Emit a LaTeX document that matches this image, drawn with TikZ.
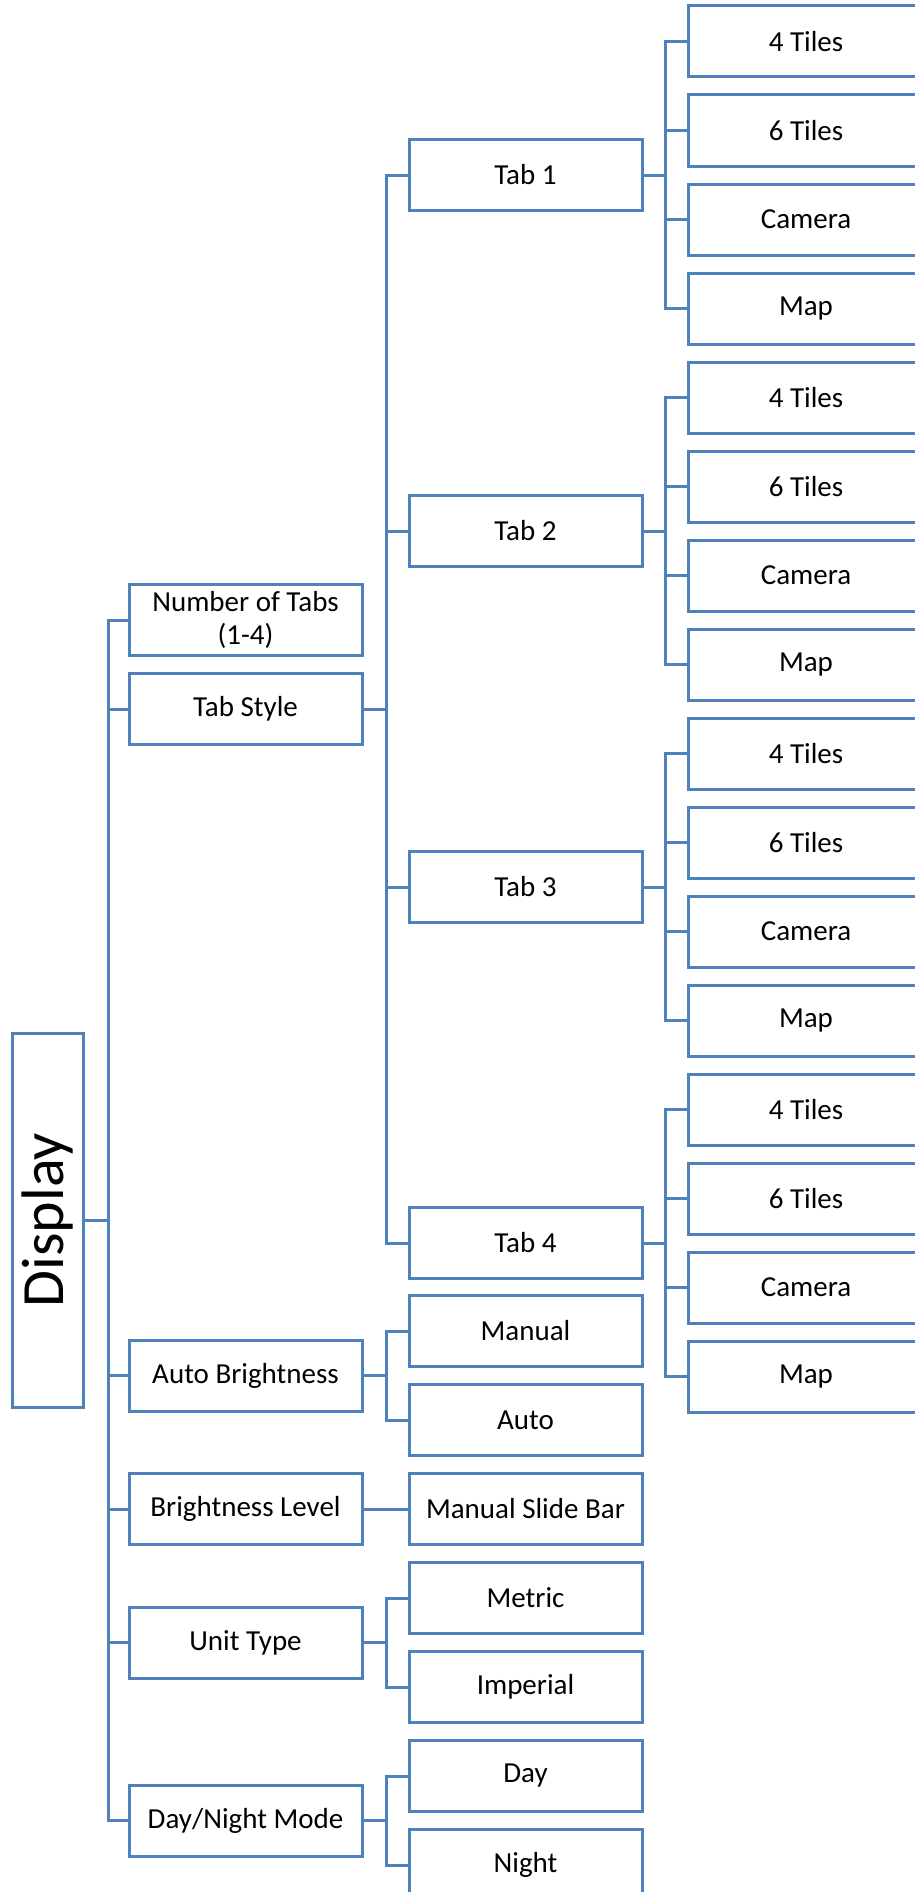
\documentclass[tikz,border=0pt]{standalone}
\usepackage{fontspec}
\setmainfont{Carlito}
\definecolor{lineblue}{RGB}{79,129,189}
\begin{document}
\begin{tikzpicture}[x=1pt,y=-1pt,
  box/.style={draw=lineblue, line width=3pt, fill=white, minimum width=233pt, minimum height=71pt, inner sep=0pt, align=center, font=\fontsize{29}{33}\selectfont},
  tile/.style={box, minimum width=236pt},
  conn/.style={draw=lineblue, line width=3pt}]
\clip (0,0) rectangle (915,1892);
\fill[white] (0,0) rectangle (915,1892);
% root
\node[box, minimum width=374pt, minimum height=71pt, rotate=90, font=\fontsize{60}{70}\selectfont] (disp) at (47.5,1220) {Display};
% level 1
\node[box] (nt) at (245.5,620) {Number of Tabs\\(1-4)};
\node[box] (ts) at (245.5,709) {Tab Style};
\node[box] (ab) at (245.5,1375.5) {Auto Brightness};
\node[box] (bl) at (245.5,1509) {Brightness Level};
\node[box] (ut) at (245.5,1642.5) {Unit Type};
\node[box] (dn) at (245.5,1820.5) {Day/Night Mode};
% level 2
\foreach \g in {1,...,4} {
  \node[box] (tab\g) at (525.5,{175+356*(\g-1)}) {Tab \g};
  \foreach \lab [count=\i] in {4 Tiles,6 Tiles,Camera,Map} {
    \node[tile] (t\g\i) at (806,{41.5+89*((\g-1)*4+\i-1)}) {\lab};
  }
}
\node[box] (man) at (525.5,1331) {Manual};
\node[box] (aut) at (525.5,1420) {Auto};
\node[box] (msb) at (525.5,1509) {Manual Slide Bar};
\node[box] (met) at (525.5,1598) {Metric};
\node[box] (imp) at (525.5,1687) {Imperial};
\node[box] (day) at (525.5,1776) {Day};
\node[box] (nig) at (525.5,1865) {Night};
% connectors
\foreach \c in {nt,ts,ab,bl,ut,dn} {
  \draw[conn] (disp.south) -- ++(24,0) |- (\c.west);
}
\foreach \g in {1,...,4} {
  \draw[conn] (ts.east) -- ++(23,0) |- (tab\g.west);
  \foreach \i in {1,...,4} {
    \draw[conn] (tab\g.east) -- ++(22,0) |- (t\g\i.west);
  }
}
\draw[conn] (ab.east) -- ++(23,0) |- (man.west);
\draw[conn] (ab.east) -- ++(23,0) |- (aut.west);
\draw[conn] (bl.east) -- (msb.west);
\draw[conn] (ut.east) -- ++(23,0) |- (met.west);
\draw[conn] (ut.east) -- ++(23,0) |- (imp.west);
\draw[conn] (dn.east) -- ++(23,0) |- (day.west);
\draw[conn] (dn.east) -- ++(23,0) |- (nig.west);
\end{tikzpicture}
\end{document}
